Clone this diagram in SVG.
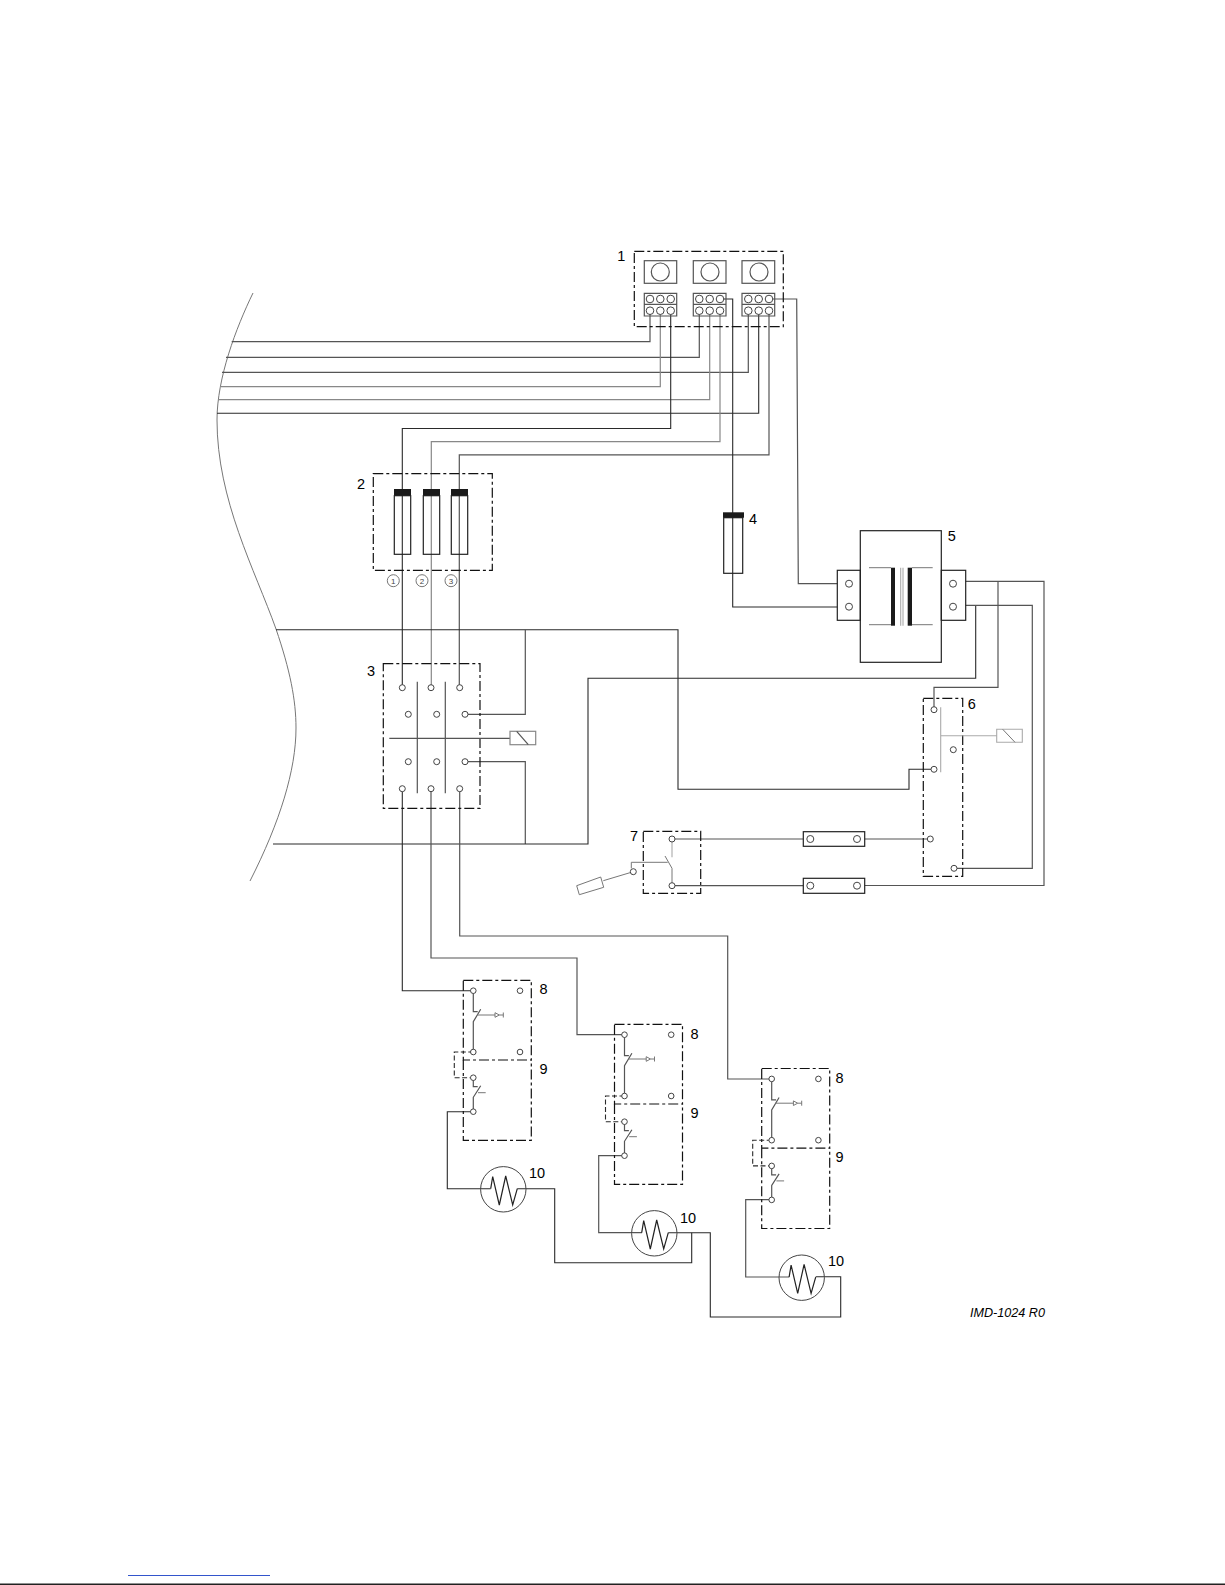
<svg xmlns="http://www.w3.org/2000/svg" width="1225" height="1585" viewBox="0 0 1225 1585">
<style>
.d{fill:none;stroke:#2a2a2a;stroke-width:1.1}
.m{fill:none;stroke:#555;stroke-width:1.2}
.l{fill:none;stroke:#888;stroke-width:1.2}
.t{fill:none;stroke:#222;stroke-width:1.2}
.g{fill:none;stroke:#777;stroke-width:1}
.gl{fill:none;stroke:#aaa;stroke-width:1.1}
.box{fill:none;stroke:#111;stroke-width:1.2;stroke-dasharray:10 3 3 3}
.c{fill:#fff;stroke:#444;stroke-width:1}
.bar{fill:#1a1a1a;stroke:none}
text{font-family:"Liberation Sans",Arial,sans-serif;font-size:14.5px;fill:#000}
.n{font-size:8px;text-anchor:middle;fill:#444}
</style>
<defs>
<g id="relaypair">
<rect class="box" x="463.3" y="980.3" width="68" height="79.7"/>
<path class="box" d="M463.3 1060V1140.3H531.3V1060"/>
<path class="m" d="M473.3 990.7V1011.7H477.7M473.3 1052V1021.7L480.7 1009.3"/>
<path class="g" d="M477 1015H495M499.3 1015H503.3M503.3 1012.5V1017.5M495 1012.7V1017.3L499.3 1015Z"/>
<path class="m" d="M473.3 1077.7V1086.7H477.7M473.3 1111.7V1097.3L480.7 1085.7"/>
<path class="g" d="M478 1092.7H485.7"/>
<path class="d" stroke-dasharray="5 2.5" d="M473.3 1052H454.3V1077.7H473.3"/>
<circle class="c" cx="473.3" cy="990.7" r="2.8"/>
<circle class="c" cx="520" cy="990.7" r="2.8"/>
<circle class="c" cx="473.3" cy="1052" r="2.8"/>
<circle class="c" cx="520" cy="1052" r="2.8"/>
<circle class="c" cx="473.3" cy="1077.7" r="2.8"/>
<circle class="c" cx="473.3" cy="1111.7" r="2.8"/>
</g>
<g id="heater">
<circle r="22.7" fill="none" stroke="#444" stroke-width="1"/>
<path class="t" d="M-12.6 -0.6L-10.6 -12.6L-4 15.7L2.4 -13.3L9.4 15.7L14 -0.6"/>
</g>
</defs>

<g id="connectors">
<path class="g" d="M253 293C236 328 217 378 217 420C217 500 255 570 276 629C290 670 296 700 296 728C296 770 280 822 250 881"/>
<path class="m" d="M650 310.7V341.7H231.7"/>
<path class="m" d="M699.3 310.7V357.3H226"/>
<path class="m" d="M748.3 310.7V372.3H222"/>
<path class="l" d="M660.3 310.7V386.7H220"/>
<path class="l" d="M709.7 310.7V399.7H218.3"/>
<path class="d" d="M758.7 310.7V413.3H217"/>
<path class="d" d="M670.7 310.7V428.5H402.3V687.7"/>
<path class="l" d="M720 310.7V441.7H431.3V687.7"/>
<path class="m" d="M769 310.7V454.8H459.3V687.7"/>
<path class="d" d="M720 299H732.7V607H837.3"/>
<path class="m" d="M769 299H796.7L798.3 583.7H837.3"/>
<path class="d" d="M276 629.7H678V789.3H909V769.3H934"/>
<path class="m" d="M465 714.3H525.3V629.7"/>
<path class="m" d="M465 761.7H525.3V844"/>
<path class="d" d="M273 844H588V678.2H975.7V605.3"/>
<path class="m" d="M965.7 581.3H1044V885.5H864.7"/>
<path class="m" d="M965.7 605.3H1032.3V868.3H954"/>
<path class="m" d="M998 581.3V687.3H934V709.7"/>
<path class="m" d="M672 839H803.3"/>
<path class="m" d="M864.7 839H930.3"/>
<path class="m" d="M672 885.7H803.3"/>
<path class="d" d="M402.3 788.7V990.7H473.3"/>
<path class="m" d="M431 788.7V958H577V1034.7H624.7"/>
<path class="m" d="M459.7 788.7V936H727.7V1079H771.7"/>
<path class="d" d="M473.3 1111.7H447.3V1188.7H490.7"/>
<path class="d" d="M517.3 1188.7H554.7V1262.7H691.7V1232.7"/>
<path class="m" d="M624.7 1155.7H598.7V1232.7H642"/>
<path class="d" d="M668.3 1232.7H710.3V1317H840.7V1276.7H815.7"/>
<path class="m" d="M771.7 1199.7H745.7V1277H789"/>
</g>

<g id="node-1">
<rect class="box" x="634.3" y="251.3" width="149" height="75.4"/>
<rect class="m" x="644.3" y="260.7" width="32.4" height="22.6"/><circle class="m" cx="660.3" cy="272" r="9"/>
<rect class="m" x="693.3" y="260.7" width="32.7" height="22.6"/><circle class="m" cx="710" cy="272" r="9"/>
<rect class="m" x="742" y="260.7" width="32.7" height="22.6"/><circle class="m" cx="759" cy="272" r="9"/>
<path class="m" d="M644.3 293.3h32.4v22.7h-32.4zM644.3 304.3h32.4M693.3 293.3h32.7v22.7h-32.7zM693.3 304.3h32.7M742 293.3h32.7v22.7h-32.7zM742 304.3h32.7"/>
<circle class="c" cx="650" cy="299" r="3.8"/><circle class="c" cx="660.3" cy="299" r="3.8"/><circle class="c" cx="670.7" cy="299" r="3.8"/>
<circle class="c" cx="650" cy="310.7" r="3.8"/><circle class="c" cx="660.3" cy="310.7" r="3.8"/><circle class="c" cx="670.7" cy="310.7" r="3.8"/>
<circle class="c" cx="699.3" cy="299" r="3.8"/><circle class="c" cx="709.7" cy="299" r="3.8"/><circle class="c" cx="720" cy="299" r="3.8"/>
<circle class="c" cx="699.3" cy="310.7" r="3.8"/><circle class="c" cx="709.7" cy="310.7" r="3.8"/><circle class="c" cx="720" cy="310.7" r="3.8"/>
<circle class="c" cx="748.3" cy="299" r="3.8"/><circle class="c" cx="758.7" cy="299" r="3.8"/><circle class="c" cx="769" cy="299" r="3.8"/>
<circle class="c" cx="748.3" cy="310.7" r="3.8"/><circle class="c" cx="758.7" cy="310.7" r="3.8"/><circle class="c" cx="769" cy="310.7" r="3.8"/>
<text x="617.3" y="260.7">1</text>
</g>

<g id="node-2">
<rect class="box" x="373.3" y="473.7" width="119" height="96.6"/>
<rect class="t" x="394.3" y="495.7" width="16.4" height="58.6"/><rect class="bar" x="394" y="489" width="17" height="6.7"/>
<rect class="t" x="423.3" y="495.7" width="16.4" height="58.6"/><rect class="bar" x="423" y="489" width="17" height="6.7"/>
<rect class="t" x="451.3" y="495.7" width="16.4" height="58.6"/><rect class="bar" x="451" y="489" width="17" height="6.7"/>
<circle class="g" cx="393.3" cy="580.7" r="6"/><text class="n" x="393.3" y="583.6">1</text>
<circle class="g" cx="422" cy="580.7" r="6"/><text class="n" x="422" y="583.6">2</text>
<circle class="g" cx="451" cy="580.7" r="6"/><text class="n" x="451" y="583.6">3</text>
<text x="357" y="489">2</text>
</g>

<g id="node-3">
<rect class="box" x="383.3" y="663.7" width="96.7" height="144.6"/>
<path class="m" d="M417.3 681.7V793.3M445.3 681.7V793.3M389.3 738.3H510"/>
<rect class="l" x="510" y="731.3" width="25.7" height="13.4"/>
<path class="m" d="M516.7 731.3L528.3 744.7"/>
<circle class="c" cx="402.3" cy="687.7" r="3"/><circle class="c" cx="431" cy="687.7" r="3"/><circle class="c" cx="459.7" cy="687.7" r="3"/>
<circle class="c" cx="408.3" cy="714.3" r="3"/><circle class="c" cx="436.7" cy="714.3" r="3"/><circle class="c" cx="465" cy="714.3" r="3"/>
<circle class="c" cx="408.3" cy="761.7" r="3"/><circle class="c" cx="436.7" cy="761.7" r="3"/><circle class="c" cx="465" cy="761.7" r="3"/>
<circle class="c" cx="402.3" cy="788.7" r="3"/><circle class="c" cx="431" cy="788.7" r="3"/><circle class="c" cx="459.7" cy="788.7" r="3"/>
<text x="367" y="676">3</text>
</g>

<g id="node-4">
<rect class="t" x="723.7" y="517.7" width="19" height="55.6"/><rect class="bar" x="723" y="512.3" width="21" height="5.4"/>
<text x="749" y="524">4</text>
</g>

<g id="node-5">
<rect class="t" x="860.3" y="530.7" width="81" height="131.6"/>
<rect class="t" x="837.3" y="570.3" width="23" height="50"/>
<rect class="t" x="941.3" y="570.3" width="24.4" height="50"/>
<rect class="bar" x="891" y="567.7" width="4" height="58"/>
<rect class="bar" x="907.7" y="567.7" width="4.3" height="58"/>
<path class="g" d="M869 567.7H891M912 567.7H932.7M869 624.7H891M912 624.7H932.7"/>
<path class="gl" d="M900.7 567.7V625.7M903 567.7V625.7"/>
<circle class="c" cx="849" cy="583.7" r="3.5"/><circle class="c" cx="849" cy="606.7" r="3.5"/>
<circle class="c" cx="953" cy="583.7" r="3.5"/><circle class="c" cx="953" cy="606.7" r="3.5"/>
<text x="947.7" y="540.7">5</text>
</g>

<g id="node-6">
<rect class="box" x="923.3" y="698.3" width="39.4" height="178"/>
<path class="gl" d="M940.7 707.3V772.3M940.7 735.7H996.7M996.7 729.3H1022.3V742.3H996.7Z"/>
<path class="g" d="M1002.7 729.3L1015 742.3"/>
<circle class="c" cx="934" cy="709.7" r="3"/><circle class="c" cx="953.3" cy="749.7" r="3"/><circle class="c" cx="934" cy="769.3" r="3"/><circle class="c" cx="930.3" cy="839" r="3"/><circle class="c" cx="954" cy="868.3" r="3"/>
<text x="967.7" y="709">6</text>
</g>

<g id="node-7">
<rect class="box" x="643.3" y="831.3" width="57.4" height="62"/>
<path class="gl" d="M672 839V857.3"/>
<path class="g" d="M672 885.7V868.3L665 856M631.3 868.3V862.3H667.7M633.3 871.7L603.3 880.7M576.7 885.7L600.7 877L603.7 887.3L579.3 894.7Z"/>
<circle class="c" cx="672" cy="839" r="3"/><circle class="c" cx="672" cy="885.7" r="3"/><circle class="c" cx="633.3" cy="871.7" r="3"/>
<text x="630" y="841">7</text>
</g>

<g id="fuse-link-1">
<rect class="t" x="803.3" y="831.7" width="61.4" height="14.6"/>
<circle class="c" cx="810.3" cy="839" r="3.5"/><circle class="c" cx="857" cy="839" r="3.5"/>
</g>
<g id="fuse-link-2">
<rect class="t" x="803.3" y="878.3" width="61.4" height="15"/>
<circle class="c" cx="810.3" cy="885.7" r="3.5"/><circle class="c" cx="857" cy="885.7" r="3.5"/>
</g>

<g id="relay-1"><use href="#relaypair"/><text x="539.5" y="994.3">8</text><text x="539.5" y="1074">9</text></g>
<g id="relay-2"><use href="#relaypair" transform="translate(151.2 44)"/><text x="690.5" y="1038.7">8</text><text x="690.5" y="1118.3">9</text></g>
<g id="relay-3"><use href="#relaypair" transform="translate(298.4 88.2)"/><text x="835.5" y="1082.7">8</text><text x="835.5" y="1161.7">9</text></g>

<g id="heater-1"><use href="#heater" x="503.3" y="1189.3"/><text x="529" y="1178.3">10</text></g>
<g id="heater-2"><use href="#heater" x="654.3" y="1233.3"/><text x="680" y="1222.7">10</text></g>
<g id="heater-3"><use href="#heater" x="801.7" y="1277.7"/><text x="828" y="1266.3">10</text></g>

<text x="970" y="1316.7" style="font-size:12.6px;font-style:italic">IMD-1024 R0</text>
<path d="M128 1575.5H270" stroke="#3355cc" stroke-width="1" fill="none"/>
<path d="M0 1584.2H1225" stroke="#222" stroke-width="1.6" fill="none"/>
</svg>
